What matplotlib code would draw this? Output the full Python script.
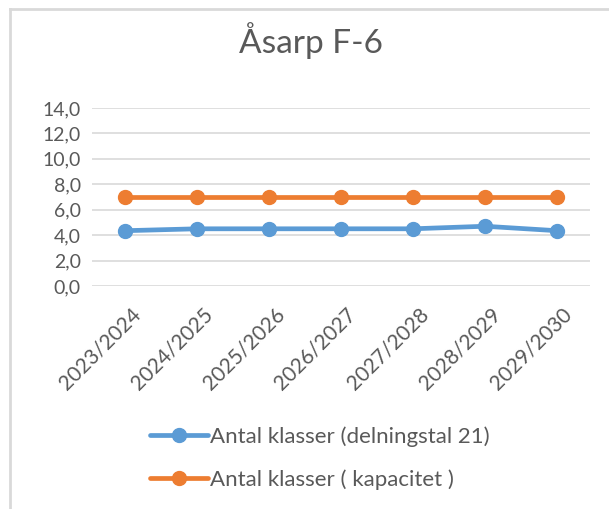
import matplotlib.pyplot as plt
from matplotlib.ticker import FuncFormatter
import matplotlib.transforms as mtransforms

plt.rcParams['font.family'] = ['Lato', 'DejaVu Sans']

years = ["2023/2024", "2024/2025", "2025/2026", "2026/2027",
         "2027/2028", "2028/2029", "2029/2030"]
delning = [4.35, 4.5, 4.5, 4.5, 4.5, 4.7, 4.35]
kapacitet = [7.0, 7.0, 7.0, 7.0, 7.0, 7.0, 7.0]

blue = "#5B9BD5"
orange = "#ED7D31"
text_col = "#595959"
grid_col = "#D9D9D9"

fig = plt.figure(figsize=(6.09, 5.09), dpi=100)
ax = fig.add_axes([0.151, 0.438, 0.818, 0.35])

x = range(len(years))
ax.plot(x, delning, color=blue, lw=3.4, marker="o", ms=10,
        label="Antal klasser (delningstal 21)", solid_capstyle="round")
ax.plot(x, kapacitet, color=orange, lw=3.4, marker="o", ms=10,
        label="Antal klasser ( kapacitet )", solid_capstyle="round")

ax.set_ylim(0, 14)
ax.set_xlim(-0.46, 6.46)
ax.set_yticks(range(0, 15, 2))
ax.yaxis.set_major_formatter(FuncFormatter(lambda v, p: f"{v:.1f}".replace(".", ",")))
ax.set_xticks(list(x))
ax.set_xticklabels(years, rotation=45, ha="right", rotation_mode="anchor")
ax.tick_params(axis="y", length=0, labelsize=14, colors=text_col, pad=8)
ax.tick_params(axis="x", length=0, labelsize=15, colors=text_col, pad=13)
shift = mtransforms.ScaledTranslation(5 / 100, 0, fig.dpi_scale_trans)
for lbl in ax.get_xticklabels():
    lbl.set_transform(lbl.get_transform() + shift)
ax.grid(axis="y", color=grid_col, lw=1.2)
ax.set_axisbelow(True)
for s in ax.spines.values():
    s.set_visible(False)

fig.text(0.51, 0.92, "Åsarp F-6", ha="center", va="center",
         fontsize=24, color=text_col)

fig.legend(loc="upper left", bbox_to_anchor=(0.232, 0.18), frameon=False,
           fontsize=16, labelcolor=text_col, handlelength=2.6,
           handletextpad=0.1, labelspacing=1.0, borderaxespad=0)

# chart border (left and top edges visible in the crop)
fig.add_artist(plt.Line2D([0.016, 0.016], [0, 0.983], color="#D9D9D9", lw=2,
                          transform=fig.transFigure))
fig.add_artist(plt.Line2D([0.016, 1.0], [0.983, 0.983], color="#D9D9D9", lw=2,
                          transform=fig.transFigure))

fig.savefig("out.png", dpi=100)
